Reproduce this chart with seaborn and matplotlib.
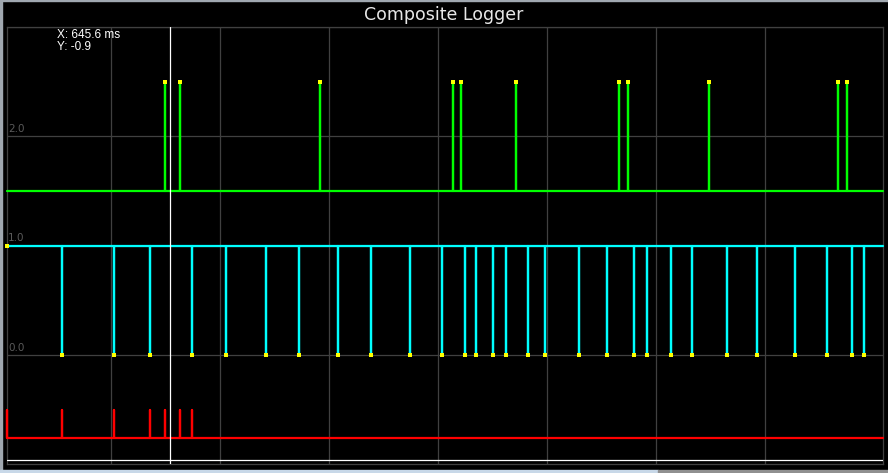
import pandas as pd
import matplotlib
matplotlib.use('Agg')
import matplotlib.pyplot as plt
from matplotlib.patches import Rectangle
import seaborn as sns

# pulse times (ms)
green_times = [625.7, 685.1, 1239.5, 1766.2, 1797.8, 2015.6, 2423.5, 2459.2,
               2779.9, 3290.8, 3326.4]
cyan_times = [217.8, 423.7, 566.3, 732.6, 867.2, 1025.6, 1156.3, 1310.8, 1441.4,
              1595.9, 1722.6, 1813.7, 1857.2, 1924.6, 1976.0, 2063.2, 2130.5,
              2265.1, 2376.0, 2482.9, 2534.4, 2629.4, 2712.6, 2851.2, 2970.0,
              3120.5, 3247.2, 3346.2, 3393.7]
red_times = [0.0, 217.8, 423.7, 566.3, 625.7, 685.1, 732.6]

# (baseline, pulse level) for each trace
green_levels = (1.5, 2.5)
cyan_levels = (1.0, 0.0)
red_levels = (-0.76, -0.51)

x_end = 3469.0
grid_x = [411.8, 843.4, 1275.1, 1706.8, 2138.4, 2570.0, 3001.7]
ytick_vals = [0.0, 1.0, 2.0]
cursor_x = 645.6
cursor_y = -0.96
cursor_label_y = -0.9


def pulse_path(times, base, peak):
    t, v = [0.0], [base]
    for p in times:
        t += [p, p, p]
        v += [base, peak, base]
    t.append(x_end)
    v.append(base)
    return pd.DataFrame({'t': t, 'v': v})


sns.set_theme(style='dark')
plt.rcParams['font.family'] = ['DejaVu Sans']

fig = plt.figure(figsize=(8.88, 4.73), dpi=100, facecolor='black')
ax = fig.add_axes([7 / 888, 9 / 473, 876 / 888, 437 / 473])
ax.set_facecolor('black')

# grid
ax.set_xlim(0, x_end)
ax.set_ylim(-1, 3)
ax.set_xticks(grid_x)
ax.set_yticks(ytick_vals + [2.999])
ax.grid(True, color='#404040', lw=0.9)
ax.tick_params(length=0, labelleft=False, labelbottom=False)
for s in ax.spines.values():
    s.set_color('#404040')
    s.set_linewidth(0.9)

for v in ytick_vals:
    ax.text(4, v + 0.02, f'{v:.1f}', color='#5a5a5a', fontsize=7.5,
            ha='left', va='bottom')

# traces
traces = [(green_times, green_levels, '#00ff00'),
          (cyan_times, cyan_levels, '#00ffff'),
          (red_times, red_levels, '#ff0000')]
for times, (base, peak), col in traces:
    df = pulse_path(times, base, peak)
    sns.lineplot(data=df, x='t', y='v', sort=False, estimator=None,
                 color=col, lw=1.6, ax=ax, zorder=3, clip_on=False)

# yellow sample markers
dots = pd.DataFrame({
    't': green_times + [0.0] + cyan_times,
    'v': [green_levels[1]] * len(green_times) + [cyan_levels[0]]
         + [cyan_levels[1]] * len(cyan_times),
})
sns.scatterplot(data=dots, x='t', y='v', marker='s', s=5, color='#ffff00',
                linewidth=0, ax=ax, zorder=4, clip_on=False)
ax.set_xlabel('')
ax.set_ylabel('')

# cursor
ax.axvline(cursor_x, color='white', lw=0.9, zorder=5)
ax.axhline(cursor_y, color='white', lw=0.9, zorder=5)
ax.text(0.057, 0.995, f'X: {cursor_x} ms\nY: {cursor_label_y}',
        transform=ax.transAxes, color='white', fontsize=8.5,
        family='Liberation Sans', ha='left', va='top', linespacing=1.0)

fig.text(0.5, 1 - 15 / 473, 'Composite Logger', color='#e8e8e8',
         fontsize=12.5, ha='center', va='center')

# window frame bits
fig.patches.append(Rectangle((0, 0), 2 / 888, 1, transform=fig.transFigure,
                             color='#a0a8b0', zorder=0))
fig.patches.append(Rectangle((0, 1 - 1.5 / 473), 1, 1.5 / 473,
                             transform=fig.transFigure, color='#a0a8b0'))
fig.patches.append(Rectangle((0, 0), 658 / 888, 3 / 473,
                             transform=fig.transFigure, color='#c8d8e8'))
fig.patches.append(Rectangle((658 / 888, 0), 230 / 888, 3 / 473,
                             transform=fig.transFigure, color='#909090'))

fig.savefig('out.png', dpi=100, facecolor='black')
